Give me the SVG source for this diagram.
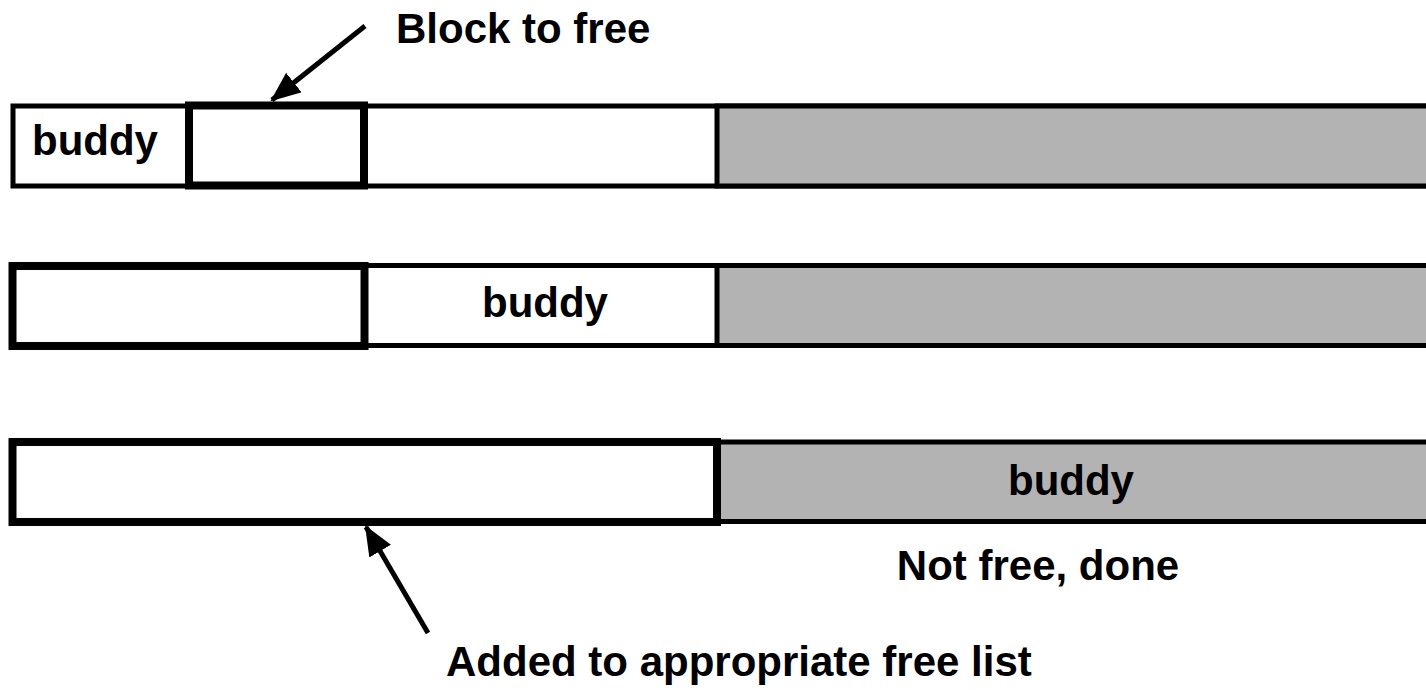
<svg xmlns="http://www.w3.org/2000/svg" width="1426" height="690" viewBox="0 0 1426 690">
  <style>
    .t { font-family: "Liberation Sans", Arial, sans-serif; font-weight: bold; font-size: 42px; fill: #000; }
    .thin { fill: #fff; stroke: #000; stroke-width: 5; }
    .gray { fill: #b3b3b3; stroke: #000; stroke-width: 5; }
    .thick { fill: none; stroke: #000; stroke-width: 8; }
    .arr { stroke: #000; stroke-width: 5; fill: none; marker-end: url(#ah); }
  </style>
  <defs>
    <marker id="ah" markerWidth="6" markerHeight="5" refX="5.6" refY="2.5" orient="auto" markerUnits="strokeWidth">
      <path d="M0,0 L6,2.5 L0,5 Z" fill="#000"/>
    </marker>
  </defs>
  <rect width="1426" height="690" fill="#fff"/>

  <g id="row1">
    <rect class="thin" x="13" y="106" width="1440" height="80"/>
    <rect class="gray" x="717" y="106" width="740" height="80"/>
    <rect class="thick" x="189" y="105.5" width="175" height="80"/>
    <text class="t" x="95" y="155" text-anchor="middle">buddy</text>
  </g>

  <g id="row2">
    <rect class="thin" x="13" y="265.5" width="1440" height="80"/>
    <rect class="gray" x="717" y="265.5" width="740" height="80"/>
    <rect class="thick" x="12.5" y="266" width="352" height="80"/>
    <text class="t" x="545" y="317" text-anchor="middle">buddy</text>
  </g>

  <g id="row3">
    <rect class="gray" x="717" y="442" width="740" height="79.5"/>
    <rect class="thin" x="12.5" y="442" width="704.5" height="80" style="stroke-width:8"/>
    <text class="t" x="1071" y="495" text-anchor="middle">buddy</text>
  </g>

  <g id="labels">
    <text class="t" x="396" y="43">Block to free</text>
    <text class="t" x="1038" y="580" text-anchor="middle">Not free, done</text>
    <text class="t" x="446" y="676">Added to appropriate free list</text>
  </g>

  <g id="connectors">
    <line class="arr" x1="365" y1="26" x2="272" y2="100"/>
    <line class="arr" x1="428" y1="633" x2="366" y2="527"/>
  </g>
</svg>
